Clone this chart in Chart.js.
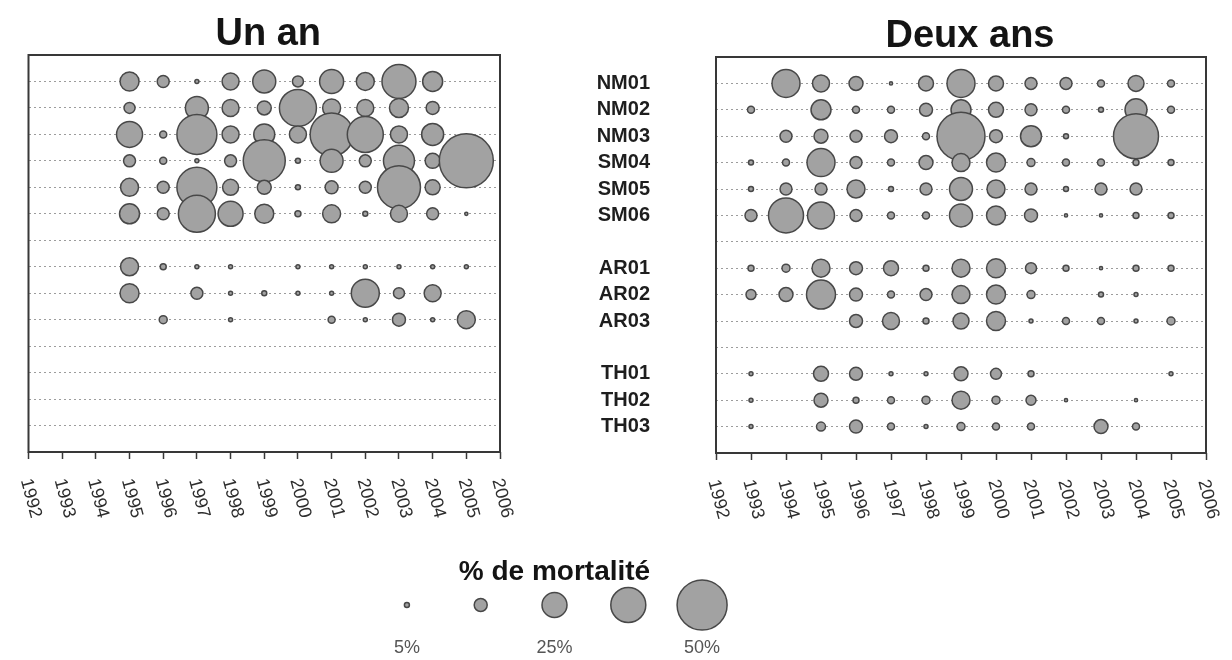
<!DOCTYPE html>
<html>
<head>
<meta charset="utf-8">
<script src="https://cdn.jsdelivr.net/npm/chart.js@4.4.1/dist/chart.umd.min.js"></script>
<style>
  html, body { margin: 0; padding: 0; background: #ffffff; }
  #wrap { position: relative; width: 1232px; height: 660px; overflow: hidden; background: #ffffff; }
  #wrap canvas { position: absolute; left: 0; top: 0; }
</style>
</head>
<body>
<div id="wrap">
  <canvas id="unAn" width="1232" height="660"></canvas>
  <canvas id="deuxAns" width="1232" height="660"></canvas>
  <canvas id="legende" width="1232" height="660"></canvas>
</div>
<script>
// ---------- DATA ----------
// Site rows (blank strings = empty separator rows)
const SITES = ['NM01','NM02','NM03','SM04','SM05','SM06','','AR01','AR02','AR03','','TH01','TH02','TH03'];
// Years that carry a value (columns of the value arrays)
const YEARS = [1993,1994,1995,1996,1997,1998,1999,2000,2001,2002,2003,2004,2005];
// Tick labels of the year axis
const TICK_YEARS = [1992,1993,1994,1995,1996,1997,1998,1999,2000,2001,2002,2003,2004,2005,2006];

// "Un an" : % de mortalité, one array per site (null = no value)
const UN_NM01 = [null,null,19,12,4,17,23,11,24,18,34,20,null];
const UN_NM02 = [null,null,11,null,23,17,14,37,18,17,19,13,null];
const UN_NM03 = [null,null,26,7,40,17,21,17,43,36,17,22,null];
const UN_SM04 = [null,null,12,7,4,12,42,5,23,12,31,15,54];
const UN_SM05 = [null,null,18,12,40,16,14,5,13,12,43,15,null];
const UN_SM06 = [null,null,20,12,37,25,19,6,18,5,17,12,3];
const UN_AR01 = [null,null,18,6,4,4,null,4,4,4,4,4,4];
const UN_AR02 = [null,null,19,null,12,4,5,4,4,28,11,17,null];
const UN_AR03 = [null,null,null,8,null,4,null,null,7,4,13,4,18];
const UN_TH01 = [];
const UN_TH02 = [];
const UN_TH03 = [];

// "Deux ans" : % de mortalité, one array per site
const DEUX_NM01 = [null,28,17,14,3,15,28,15,12,12,7,16,7];
const DEUX_NM02 = [7,null,20,7,7,13,20,15,12,7,5,22,7];
const DEUX_NM03 = [null,12,14,12,13,7,48,13,21,5,null,45,null];
const DEUX_SM04 = [5,7,28,12,7,14,18,19,8,7,7,6,6];
const DEUX_SM05 = [5,12,12,18,5,12,23,18,12,5,12,12,null];
const DEUX_SM06 = [12,35,27,12,7,7,23,19,13,3,3,6,6];
const DEUX_AR01 = [6,8,18,13,15,6,18,19,11,6,3,6,6];
const DEUX_AR02 = [10,14,29,13,7,12,18,19,8,null,5,4,null];
const DEUX_AR03 = [null,null,null,13,17,6,16,19,4,7,7,4,8];
const DEUX_TH01 = [4,null,15,13,4,4,14,11,6,null,null,null,4];
const DEUX_TH02 = [4,null,14,6,7,8,18,8,10,3,null,3,null];
const DEUX_TH03 = [4,null,9,13,7,4,8,7,7,null,14,7,null];

// Legend
const LEGEND_VALUES = [5, 13, 25, 35, 50];
const LEGEND_LABELS = ['5%', '', '25%', '', '50%'];

// ---------- BUILD ----------
const UN_ROWS = [UN_NM01,UN_NM02,UN_NM03,UN_SM04,UN_SM05,UN_SM06,[],UN_AR01,UN_AR02,UN_AR03,[],UN_TH01,UN_TH02,UN_TH03];
const DEUX_ROWS = [DEUX_NM01,DEUX_NM02,DEUX_NM03,DEUX_SM04,DEUX_SM05,DEUX_SM06,[],DEUX_AR01,DEUX_AR02,DEUX_AR03,[],DEUX_TH01,DEUX_TH02,DEUX_TH03];

function buildPoints(rows) {
  const pts = [];
  rows.forEach((vals, i) => {
    vals.forEach((v, j) => {
      if (v !== null && v !== undefined) pts.push({ x: YEARS[j], y: i + 1, v: v });
    });
  });
  return pts;
}

const FONT = "'Liberation Sans', Arial, Helvetica, sans-serif";
Chart.defaults.font.family = FONT;
Chart.defaults.animation = false;

const R_SCALE = 0.5;
const bubbleStyle = {
  backgroundColor: '#a2a2a2',
  borderColor: '#484848',
  borderWidth: 1.5,
  hoverBorderWidth: 1.5,
  radius: c => (c.raw ? Math.max(1.6, c.raw.v * R_SCALE) : 0),
  clip: false
};

const decor = {
  id: 'decor',
  afterDraw(chart, args, o) {
    const { ctx, chartArea: a } = chart;
    ctx.save();
    if (o.frame) {
      ctx.strokeStyle = '#383838';
      ctx.lineWidth = 2;
      ctx.strokeRect(a.left, a.top, a.right - a.left, a.bottom - a.top);
    }
    if (o.title) {
      ctx.font = o.titleFont;
      ctx.fillStyle = '#141414';
      ctx.textAlign = 'center';
      ctx.textBaseline = 'alphabetic';
      ctx.fillText(o.title, (a.left + a.right) / 2 + (o.titleDx || 0), o.titleY);
    }
    if (o.yearLabels) {
      const xs = chart.scales.x;
      ctx.font = '18px ' + FONT;
      ctx.fillStyle = '#2e2e2e';
      ctx.textAlign = 'left';
      ctx.textBaseline = 'middle';
      TICK_YEARS.forEach(yr => {
        const px = xs.getPixelForValue(yr);
        ctx.save();
        ctx.translate(px - 3, a.bottom + 27);
        ctx.rotate(75 * Math.PI / 180);
        ctx.fillText(String(yr), 0, 0);
        ctx.restore();
      });
    }
    ctx.restore();
  }
};

function panel(id, title, rows, padding, showRows, titleY, titleDx) {
  return new Chart(document.getElementById(id), {
    type: 'bubble',
    data: { datasets: [Object.assign({ label: title, data: buildPoints(rows) }, bubbleStyle)] },
    options: {
      responsive: false,
      events: [],
      layout: { padding: padding },
      plugins: {
        legend: { display: false },
        tooltip: { enabled: false },
        decor: { frame: true, title: title, titleFont: 'bold 38px ' + FONT, titleY: titleY, titleDx: titleDx, yearLabels: true }
      },
      scales: {
        x: {
          type: 'linear',
          min: TICK_YEARS[0],
          max: TICK_YEARS[TICK_YEARS.length - 1],
          afterBuildTicks: s => { s.ticks = TICK_YEARS.map(v => ({ value: v })); },
          afterFit: s => { s.height = 7; s.paddingLeft = 0; s.paddingRight = 0; },
          ticks: { display: false, autoSkip: false },
          grid: { drawOnChartArea: false, drawTicks: true, tickLength: 7, tickColor: '#383838', tickWidth: 1.5 },
          border: { display: false }
        },
        y: {
          type: 'linear',
          min: 0,
          max: SITES.length + 1,
          reverse: true,
          afterBuildTicks: s => { s.ticks = SITES.map((_, i) => ({ value: i + 1 })); },
          afterFit: s => { s.width = showRows ? 140 : 0; s.paddingTop = 0; s.paddingBottom = 0; },
          ticks: {
            display: showRows,
            autoSkip: false,
            crossAlign: 'near',
            padding: 66,
            color: '#1e1e1e',
            font: { size: 20, weight: 'bold' },
            callback: (val, idx) => SITES[idx]
          },
          grid: { drawTicks: false, color: '#9c9c9c', lineWidth: 1 },
          border: { display: false, dash: [2, 3] }
        }
      }
    },
    plugins: [decor]
  });
}

panel('unAn', 'Un an', UN_ROWS, { left: 17, right: 732, top: 55, bottom: 201 }, false, 45, 4);
panel('deuxAns', 'Deux ans', DEUX_ROWS, { left: 576, right: 26, top: 57, bottom: 200 }, true, 47, 9);

// Legend chart
new Chart(document.getElementById('legende'), {
  type: 'bubble',
  data: {
    datasets: [Object.assign({
      label: '% de mortalité',
      data: LEGEND_VALUES.map((v, i) => ({ x: i, y: 0.5, v: v }))
    }, bubbleStyle)]
  },
  options: {
    responsive: false,
    events: [],
    layout: { padding: { left: 370, right: 493, top: 582, bottom: 2 } },
    plugins: {
      legend: { display: false },
      tooltip: { enabled: false },
      decor: { frame: false, title: '% de mortalité', titleFont: 'bold 28px ' + FONT, titleY: 580, titleDx: 0, yearLabels: false }
    },
    scales: {
      x: {
        type: 'linear',
        min: -0.5,
        max: LEGEND_VALUES.length - 0.5,
        afterBuildTicks: s => { s.ticks = LEGEND_VALUES.map((_, i) => ({ value: i })); },
        afterFit: s => { s.height = 30; },
        ticks: { autoSkip: false, padding: 9, color: '#555555', font: { size: 18 }, maxRotation: 0, callback: (val, idx) => LEGEND_LABELS[idx] },
        grid: { display: false, drawTicks: false },
        border: { display: false }
      },
      y: { type: 'linear', min: 0, max: 1, display: false }
    }
  },
  plugins: [decor]
});
</script>
</body>
</html>
